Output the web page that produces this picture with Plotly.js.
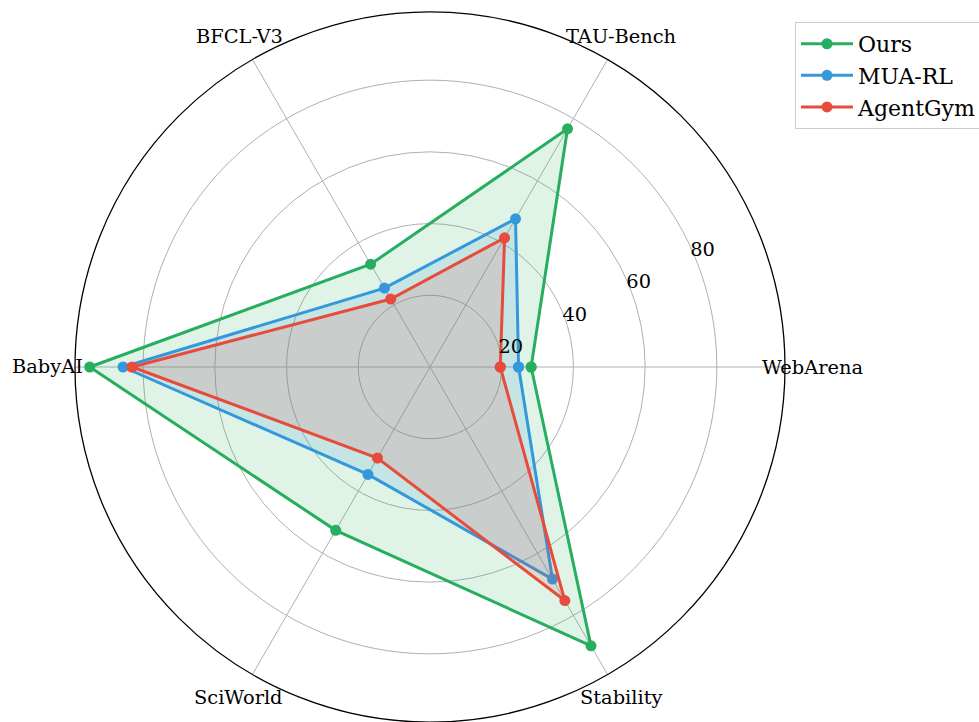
<!DOCTYPE html>
<html>
<head>
<meta charset="utf-8">
<script src="https://cdn.plot.ly/plotly-3.0.1.min.js"></script>
<style>html,body{margin:0;padding:0;background:#fff;}#chart{width:979px;height:722px;}</style>
</head>
<body>
<div id="chart"></div>
<script>
const categories = ["WebArena", "TAU-Bench", "BFCL-V3", "BabyAI", "SciWorld", "Stability"];
const oursValues = [28.2, 76.7, 33.1, 94.9, 52.6, 89.8];
const muaValues = [24.7, 47.7, 25.4, 85.6, 34.6, 68.3];
const agentGymValues = [19.6, 41.6, 21.9, 83.1, 29.3, 75.2];
const radialTicks = [20, 40, 60, 80];
const radialMax = 99;

const FONT = "DejaVu Serif, serif";
const close = a => a.concat([a[0]]);

const seriesDefs = [
  {name: "Ours", values: oursValues, color: "#27ae60", fill: "rgba(39,174,96,0.15)"},
  {name: "MUA-RL", values: muaValues, color: "#3498db", fill: "rgba(52,152,219,0.15)"},
  {name: "AgentGym", values: agentGymValues, color: "#e74c3c", fill: "rgba(231,76,60,0.15)"}
];

const data = [];
seriesDefs.forEach(s => {
  data.push({
    type: "scatterpolar",
    mode: "lines+markers",
    name: s.name,
    r: close(s.values),
    theta: close(categories),
    line: {color: s.color, width: 3},
    marker: {color: s.color, size: 11},
    cliponaxis: false
  });
  data.push({
    type: "scatterpolar",
    mode: "none",
    r: close(s.values),
    theta: close(categories),
    fill: "toself",
    fillcolor: s.fill,
    showlegend: false,
    hoverinfo: "skip"
  });
});

// category labels placed around the outer ring (centered, like matplotlib)
const W = 979, H = 722;
const margin = {l: 74, r: 193, t: 12, b: 0};
const plotW = W - margin.l - margin.r, plotH = H - margin.t - margin.b;
const ringPx = 382;
const annotations = categories.map((c, i) => {
  const a = i * Math.PI / 3;
  return {
    text: c,
    xref: "paper", yref: "paper",
    x: 0.5 + ringPx * Math.cos(a) / plotW,
    y: 0.5 + ringPx * Math.sin(a) / plotH,
    xanchor: "center", yanchor: "middle",
    showarrow: false,
    font: {family: FONT, size: 19.4, color: "#000"}
  };
});

const radialAngle = 27;

const layout = {
  width: W,
  height: H,
  margin: Object.assign({autoexpand: false}, margin),
  paper_bgcolor: "#fff",
  font: {family: FONT, size: 19.4, color: "#000"},
  annotations: annotations,
  polar: {
    domain: {x: [0, 1], y: [0, 1]},
    bgcolor: "#fff",
    radialaxis: {
      range: [0, radialMax],
      tickmode: "array",
      tickvals: radialTicks,
      ticktext: radialTicks.map(String),
      showline: false,
      ticks: "",
      angle: radialAngle,
      tickangle: radialAngle,
      side: "clockwise",
      gridcolor: "#b0b0b0",
      gridwidth: 1,
      tickfont: {family: FONT, size: 19.4, color: "#000"}
    },
    angularaxis: {
      type: "category",
      categoryarray: categories,
      rotation: 0,
      direction: "counterclockwise",
      showticklabels: false,
      ticks: "",
      showline: true,
      linecolor: "#000",
      linewidth: 1.3,
      gridcolor: "#b0b0b0",
      gridwidth: 1
    }
  },
  legend: {
    x: (795 - 74) / 712,
    y: 0.986,
    xanchor: "left",
    yanchor: "top",
    bgcolor: "#fff",
    bordercolor: "#cccccc",
    borderwidth: 1,
    itemwidth: 52,
    font: {family: FONT, size: 22, color: "#000"}
  },
  showlegend: true
};

Plotly.newPlot("chart", data, layout, {displayModeBar: false, staticPlot: true});
</script>
</body>
</html>
